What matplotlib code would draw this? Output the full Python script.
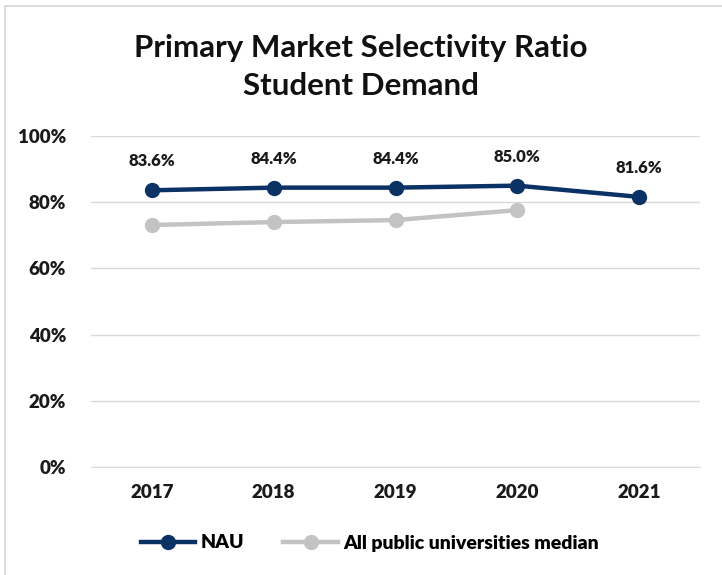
import matplotlib.pyplot as plt
from matplotlib.patches import Rectangle

# Datos de la gráfica
years = ["2017", "2018", "2019", "2020", "2021"]
nau = [83.6, 84.4, 84.4, 85.0, 81.6]
median_pub = [73.1, 74.0, 74.6, 77.6]
yticks = [0, 20, 40, 60, 80, 100]

navy = "#0a3264"
gris = "#c3c3c3"
plt.rcParams["font.family"] = ["Lato", "DejaVu Sans"]
plt.rcParams["font.weight"] = "heavy"

fig = plt.figure(figsize=(7.22, 5.75), dpi=100)
# marco de la gráfica
fig.patches.append(Rectangle((5/722, -0.1), 1.2, 1 - 6/575 + 0.1, transform=fig.transFigure,
                             fill=False, edgecolor="#d6d6d6", lw=1.2))

ax = fig.add_axes([91/722, 1 - 467/575, (700 - 91)/722, (467 - 136)/575])
x = list(range(len(years)))

ax.plot(x[:len(median_pub)], [v/100 for v in median_pub], color=gris, lw=3.2,
        marker="o", ms=10, label="All public universities median", zorder=3)
ax.plot(x, [v/100 for v in nau], color=navy, lw=3.2, marker="o", ms=10,
        label="NAU", zorder=4)

for xi, v in zip(x, nau):
    ax.annotate("{:.1f}%".format(v), (xi, v/100), xytext=(0, 15), textcoords="offset points",
                ha="center", va="bottom", fontsize=12, fontweight="heavy", color="#1a1a1a")

ax.set_xlim(-0.5, 4.5)
ax.set_ylim(0, 1)
ax.set_yticks([t/100 for t in yticks])
ax.set_yticklabels(["{}%".format(t) for t in yticks])
ax.set_xticks(x)
ax.set_xticklabels(years)
ax.tick_params(length=0, labelsize=13.5, colors="#1a1a1a")
ax.tick_params(axis="y", pad=18)
ax.tick_params(axis="x", pad=12)
ax.grid(axis="y", color="#d9d9d9", lw=1)
for s in ["top", "right", "left"]:
    ax.spines[s].set_visible(False)
ax.spines["bottom"].set_color("#d9d9d9")
ax.set_axisbelow(True)

fig.text(0.5, 1 - 67/575, "Primary Market Selectivity Ratio\nStudent Demand", ha="center",
         va="center", fontsize=22.5, fontweight="bold", linespacing=1.45, color="#111111")

h, l = ax.get_legend_handles_labels()
ax.legend(h[::-1], l[::-1], loc="center", bbox_to_anchor=(370/722, 1 - 543/575),
          bbox_transform=fig.transFigure, ncol=2, frameon=False, fontsize=14,
          handlelength=2.8, columnspacing=2.0, handletextpad=0.3)

plt.savefig("out.png", dpi=100)
